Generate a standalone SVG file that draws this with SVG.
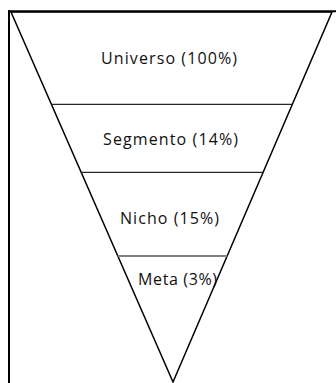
<svg xmlns="http://www.w3.org/2000/svg" width="336" height="383" viewBox="0 0 336 383">
  <style>
    .lbl { font-family: "Open Sans", "Liberation Sans", sans-serif; font-size: 16px; fill: #111111; }
    .div { stroke: #262626; stroke-width: 1.2; }
    .div2 { stroke: #808080; stroke-width: 2; }
  </style>
  <rect x="0" y="0" width="336" height="383" fill="#ffffff"/>
  <g id="frame" stroke="#000" stroke-width="2" fill="none">
    <line x1="8" y1="11.3" x2="336" y2="11.3"/>
    <line x1="9" y1="10.3" x2="9" y2="383"/>
  </g>
  <g id="funnel">
    <polygon points="11,12 332,12 173,382" fill="none" stroke="#000" stroke-width="1.5"/>
  </g>
  <g id="connectors">
    <line class="div" x1="51.4" y1="104.3" x2="292.3" y2="104.3"/>
    <line class="div" x1="81.2" y1="172.3" x2="263.1" y2="172.3"/>
    <line class="div2" x1="117.8" y1="256" x2="227.2" y2="256"/>
  </g>
  <g id="universo"><text class="lbl" x="101" y="64" textLength="136" lengthAdjust="spacing">Universo (100%)</text></g>
  <g id="segmento"><text class="lbl" x="103" y="144.5" textLength="135" lengthAdjust="spacing">Segmento (14%)</text></g>
  <g id="nicho"><text class="lbl" x="120" y="223.5" textLength="99" lengthAdjust="spacing">Nicho (15%)</text></g>
  <g id="meta"><text class="lbl" x="138" y="284.5" textLength="79" lengthAdjust="spacing">Meta (3%)</text></g>
</svg>
